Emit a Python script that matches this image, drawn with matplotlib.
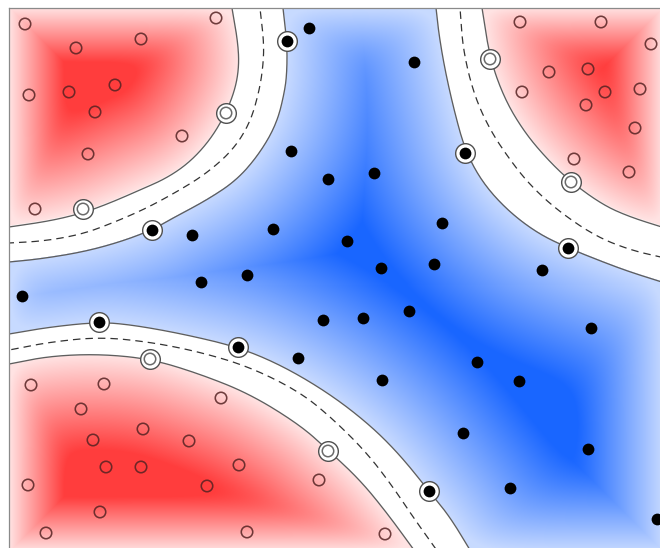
import numpy as np
import matplotlib
matplotlib.use('Agg')
import matplotlib.pyplot as plt
from matplotlib.path import Path

# ---------------- data (pixel-like coordinates, y downward) ----------------
# class A (red region, open circles); last field: 1 = support vector
red_pts = [
    (25, 24, 0), (216, 18, 0), (76, 48, 0), (141, 39, 0), (29, 95, 0), (69, 92, 0),
    (115, 85, 0), (95, 112, 0), (88, 154, 0), (182, 136, 0), (226, 113, 1),
    (35, 209, 0), (83, 209, 1),
    (520, 22, 0), (601, 22, 0), (651, 44, 0), (490, 59, 1), (549, 72, 0), (588, 69, 0),
    (522, 92, 0), (605, 92, 0), (640, 89, 0), (586, 105, 0), (635, 128, 0),
    (574, 159, 0), (629, 172, 0), (571, 182, 1),
    (150, 359, 1), (31, 385, 0), (104, 384, 0), (81, 409, 0), (221, 398, 0),
    (143, 429, 0), (93, 440, 0), (189, 441, 0), (106, 467, 0), (141, 467, 0),
    (239, 465, 0), (207, 486, 0), (28, 485, 0), (100, 512, 0), (46, 533, 0),
    (247, 532, 0), (328, 451, 1), (319, 480, 0), (385, 534, 0),
]
# class B (blue region, filled black dots)
blue_pts = [
    (287, 41, 1), (309, 28, 0), (414, 62, 0), (291, 151, 0), (465, 153, 1),
    (328, 179, 0), (374, 173, 0), (152, 230, 1), (192, 235, 0), (273, 229, 0),
    (442, 223, 0), (347, 241, 0), (568, 248, 1), (22, 296, 0), (201, 282, 0),
    (247, 275, 0), (381, 268, 0), (434, 264, 0), (542, 270, 0), (99, 322, 1),
    (238, 347, 1), (323, 320, 0), (363, 318, 0), (409, 311, 0), (591, 328, 0),
    (298, 358, 0), (477, 362, 0), (519, 381, 0), (382, 380, 0), (463, 433, 0),
    (588, 449, 0), (429, 491, 1), (510, 488, 0), (657, 519, 0),
]

# decision curves: inner margin (+1), boundary (0), outer margin (-1)
tl_inner = [(232, 8), (238, 43), (239, 67), (235, 90), (225, 115), (210, 140), (190, 162),
            (167, 178), (140, 190), (110, 203), (83, 213), (50, 221), (9, 227)]
tl_mid = [(260, 8), (264, 43), (263, 67), (259, 92), (250, 123), (233, 150), (207, 173),
          (180, 190), (147, 208), (115, 222), (83, 234), (45, 241), (9, 243)]
tl_outer = [(283, 8), (287, 43), (287, 70), (285, 90), (277, 123), (260, 153), (237, 180),
            (207, 200), (173, 218), (152, 230), (120, 242), (83, 252), (40, 259), (9, 262)]

tr_inner = [(482, 8), (490, 59), (505, 100), (525, 133), (548, 160), (571, 182),
            (603, 205), (630, 217), (665, 228)]
tr_mid = [(460, 8), (463, 50), (474, 95), (490, 130), (510, 160), (530, 185),
          (557, 210), (595, 236), (630, 250), (665, 258)]
tr_outer = [(436, 8), (439, 35), (445, 70), (454, 110), (465, 150), (482, 182),
            (507, 210), (537, 233), (568, 248), (603, 262), (630, 272), (665, 283)]

bl_inner = [(9, 364), (50, 356), (100, 354), (151, 359), (200, 374), (250, 394),
            (300, 425), (328, 450), (360, 480), (387, 513), (414, 550)]
bl_mid = [(9, 350), (50, 342), (100, 337), (150, 342), (200, 352), (250, 367),
          (300, 392), (333, 419), (367, 453), (393, 487), (413, 517), (438, 552)]
bl_outer = [(9, 334), (50, 327), (99, 322), (133, 325), (183, 334), (238, 347),
            (283, 366), (330, 394), (370, 425), (400, 455), (429, 491),
            (450, 517), (470, 550)]

regions = [
    (tl_inner, tl_mid, tl_outer, (-600, -600)),
    (tr_inner, tr_mid, tr_outer, (1300, -600)),
    (bl_inner, bl_mid, bl_outer, (-600, 1200)),
]

X0, X1, Y0, Y1 = 9, 681, 8, 560


def extend(pts, L=45.0):
    P = np.asarray(pts, float)
    a = P[0] - P[1]
    b = P[-1] - P[-2]
    s = P[0] + a / np.hypot(*a) * L
    e = P[-1] + b / np.hypot(*b) * L
    return np.vstack([s, P, e])


def chaikin(P, n_iter=5):
    for _ in range(n_iter):
        Q = 0.75 * P[:-1] + 0.25 * P[1:]
        R = 0.25 * P[:-1] + 0.75 * P[1:]
        mid = np.empty((2 * len(Q), 2))
        mid[0::2] = Q
        mid[1::2] = R
        P = np.vstack([P[0], mid, P[-1]])
    return P


def smooth_curve(pts):
    return chaikin(extend(pts), 4)


def dist_polyline(X, Y, C):
    d2 = np.full(X.shape, np.inf)
    for (ax_, ay_), (bx, by) in zip(C[:-1], C[1:]):
        dx, dy = bx - ax_, by - ay_
        L = dx * dx + dy * dy
        if L < 1e-6:
            continue
        t = np.clip(((X - ax_) * dx + (Y - ay_) * dy) / L, 0, 1)
        d2 = np.minimum(d2, (X - ax_ - t * dx) ** 2 + (Y - ay_ - t * dy) ** 2)
    return np.sqrt(d2)


# pixel-centred grid, one sample per output pixel
xs = np.arange(X0, X1) + 0.5
ys = np.arange(Y0, Y1) + 0.5
X, Y = np.meshgrid(xs, ys)
XY = np.c_[X.ravel(), Y.ravel()]

F = np.full(X.shape, -np.inf)
T_red = np.zeros(X.shape)
T_blue = np.full(X.shape, np.inf)
line_sets = []

for inner, mid, outer, corner in regions:
    ds, ins, cs = [], [], []
    for curve in (inner, mid, outer):
        C = smooth_curve(curve)
        cs.append(C)
        ds.append(dist_polyline(X, Y, C))
        poly = Path(np.vstack([C, corner]))
        ins.append(poly.contains_points(XY).reshape(X.shape))
    line_sets.append(cs)
    di, dm, do = ds
    ii, im, io = ins
    f = np.where(ii, 1 + di / 100.0,
                 np.where(im, dm / (dm + di + 1e-9),
                          np.where(io, -dm / (dm + do + 1e-9), -1 - do / 100.0)))
    F = np.maximum(F, f)
    T_red = np.where(ii, di, T_red)
    T_blue = np.minimum(T_blue, np.where(io, 0.0, do))

E = np.clip(np.minimum.reduce([X - 9, Y - 8, 664 - X, 552 - Y]), 0, None)


def smin(a, b, k=0.12):
    return -k * np.log(np.exp(-a / k) + np.exp(-b / k))


I_red = 0.14 + 0.86 * np.clip(smin(T_red / 95.0, E / 55.0), 0, 1)
I_blue = 0.24 + 0.76 * np.clip(smin(T_blue / 125.0, E / 85.0), 0, 1)

red_full = np.array([1.0, 0.24, 0.24])
blue_full = np.array([0.10, 0.40, 1.0])
white = np.ones(3)

w_red = np.clip((F - 1.0) * 60 + 0.5, 0, 1)
w_blue = np.clip((-1.0 - F) * 60 + 0.5, 0, 1)
rgb = (white
       + (w_red * I_red)[..., None] * (red_full - white)
       + (w_blue * I_blue)[..., None] * (blue_full - white))
rgb = np.clip(rgb, 0, 1)

# ---------------- figure ----------------
fig = plt.figure(figsize=(6.6, 5.48), dpi=100)
ax = fig.add_axes([X0 / 660, (548 - Y1) / 548, (X1 - X0) / 660, (Y1 - Y0) / 548])
ax.imshow(rgb, extent=[X0, X1, Y1, Y0], origin='upper', interpolation='nearest',
          aspect='auto', zorder=0)

for C_in, C_mid, C_out in line_sets:
    ax.plot(C_in[:, 0], C_in[:, 1], color='#5e5e5e', lw=0.95, zorder=2)
    ax.plot(C_out[:, 0], C_out[:, 1], color='#5e5e5e', lw=0.95, zorder=2)
    ax.plot(C_mid[:, 0], C_mid[:, 1], color='#333333', lw=0.9, ls=(0, (6, 4)), zorder=2)

rx = np.array([p[0] for p in red_pts]); ry = np.array([p[1] for p in red_pts])
rs = np.array([p[2] for p in red_pts]).astype(bool)
bx = np.array([p[0] for p in blue_pts]); by = np.array([p[1] for p in blue_pts])
bs = np.array([p[2] for p in blue_pts]).astype(bool)

# support-vector rings
ax.scatter(np.r_[rx[rs], bx[bs]], np.r_[ry[rs], by[bs]], s=200, facecolors='white',
           edgecolors='#505050', linewidths=1.0, zorder=3)
ax.scatter(rx[~rs], ry[~rs], s=68, facecolors='none', edgecolors='#552222',
           linewidths=1.15, alpha=0.85, zorder=4)
ax.scatter(rx[rs], ry[rs], s=68, facecolors='none', edgecolors='#6a6a6a',
           linewidths=1.1, zorder=4)
ax.scatter(bx, by, s=72, c='black', linewidths=0, zorder=5)

ax.set_xlim(X0, X1)
ax.set_ylim(Y1, Y0)
ax.set_xticks([]); ax.set_yticks([])
for sp in ax.spines.values():
    sp.set_color('#8a8a8a')
    sp.set_linewidth(0.9)

fig.savefig('out.png', dpi=100)
